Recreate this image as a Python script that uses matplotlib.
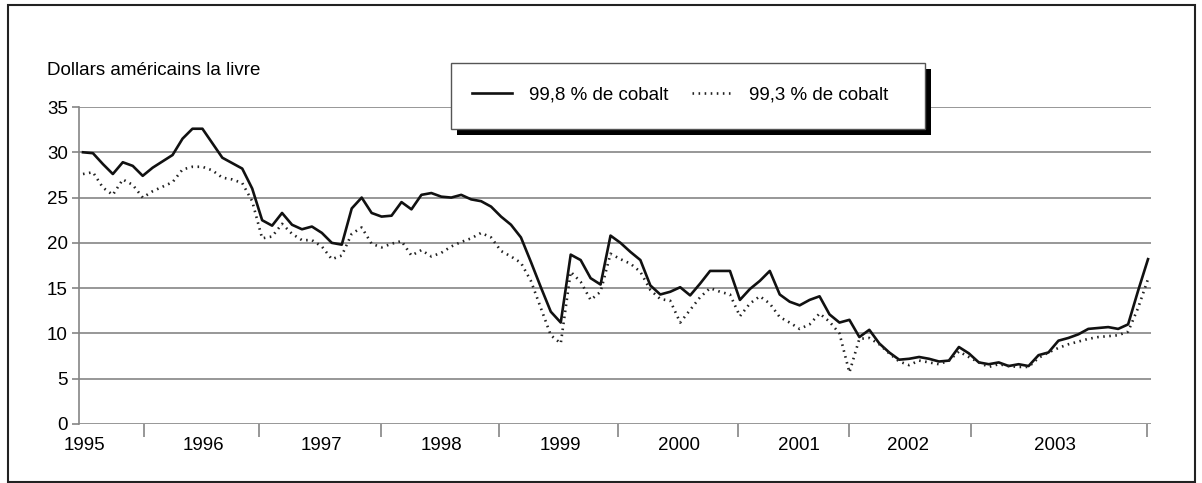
import numpy as np, matplotlib
matplotlib.use("Agg"); import matplotlib.pyplot as plt
from matplotlib.patches import Rectangle
from matplotlib.lines import Line2D

plt.rcParams['font.family'] = ['Liberation Sans', 'DejaVu Sans']
FS = 13.5

# monthly prices, US$ per pound
cobalt_998 = [30.0, 29.9, 28.7, 27.6, 28.9, 28.5, 27.4, 28.3, 29.0, 29.7, 31.5, 32.6,
              32.6, 31.0, 29.4, 28.8, 28.2, 26.0, 22.5, 21.9, 23.3, 22.0, 21.5, 21.8,
              21.1, 20.0, 19.8, 23.8, 25.0, 23.3, 22.9, 23.0, 24.5, 23.7, 25.3, 25.5,
              25.1, 25.0, 25.3, 24.8, 24.6, 24.0, 22.9, 22.0, 20.6, 17.9, 15.1, 12.4,
              11.2, 18.7, 18.1, 16.1, 15.4, 20.8, 20.0, 19.0, 18.1, 15.3, 14.3, 14.6,
              15.1, 14.2, 15.5, 16.9, 16.9, 16.9, 13.7, 14.9, 15.8, 16.9, 14.3, 13.5,
              13.1, 13.7, 14.1, 12.1, 11.2, 11.5, 9.6, 10.4, 8.9, 7.9, 7.1, 7.2,
              7.4, 7.2, 6.9, 7.0, 8.5, 7.8, 6.8, 6.6, 6.8, 6.4, 6.6, 6.4,
              7.6, 7.9, 9.2, 9.5, 9.9, 10.5, 10.6, 10.7, 10.5, 11.0, 14.7, 18.2]
cobalt_993 = [27.6, 27.8, 26.1, 25.3, 27.0, 26.4, 25.0, 25.7, 26.2, 26.7, 28.1, 28.4,
              28.4, 28.0, 27.2, 27.0, 26.6, 24.6, 20.5, 20.7, 22.1, 21.0, 20.3, 20.3,
              19.6, 18.2, 18.6, 21.0, 21.7, 19.9, 19.5, 19.9, 20.2, 18.6, 19.2, 18.5,
              18.9, 19.6, 20.1, 20.5, 21.1, 20.6, 19.1, 18.5, 17.8, 15.8, 12.8, 9.8,
              8.9, 16.8, 15.7, 13.7, 14.6, 18.8, 18.2, 17.7, 16.8, 14.8, 13.8, 13.6,
              11.2, 12.6, 14.0, 15.0, 14.6, 14.3, 11.9, 13.3, 14.1, 13.3, 11.8, 11.2,
              10.5, 11.0, 12.2, 11.3, 10.0, 5.7, 9.4, 9.5, 8.8, 7.8, 6.9, 6.5,
              7.0, 6.8, 6.6, 7.0, 8.0, 7.4, 6.8, 6.3, 6.6, 6.4, 6.3, 6.3,
              7.3, 7.9, 8.4, 8.8, 9.1, 9.4, 9.6, 9.7, 9.8, 10.2, 12.8, 16.0]
series_labels = ["99,8 % de cobalt", "99,3 % de cobalt"]
years = ["1995", "1996", "1997", "1998", "1999", "2000", "2001", "2002", "2003"]
year_label_pos = [0.1, 12.1, 24.0, 36.0, 48.0, 59.9, 71.9, 82.9, 97.6]
year_sep_pos = [6.1, 17.7, 29.9, 41.8, 53.8, 65.8, 77.0, 89.2, 106.9]

DOTS = (0, (0.6, 1.7))

W, H = 1202, 483
fig = plt.figure(figsize=(W / 100, H / 100), dpi=100)
ax = fig.add_axes([79 / W, 1 - 424 / H, (1151 - 79) / W, (424 - 107) / H])

x = np.arange(len(cobalt_998))
ax.plot(x, cobalt_998, color="#111111", lw=1.9, solid_joinstyle="round", zorder=3)
ax.plot(x, cobalt_993, color="#222222", lw=1.9, ls=DOTS, zorder=3)

ax.set_xlim(-0.4, 107.3)
ax.set_ylim(0, 35)
ax.set_yticks(range(0, 36, 5))
ax.yaxis.grid(True, color="#858585", lw=1.2)
ax.set_axisbelow(True)
for s in ["top", "right", "bottom"]:
    ax.spines[s].set_visible(False)
ax.spines["left"].set_color("#858585")
ax.spines["left"].set_linewidth(1.2)
ax.tick_params(axis="y", length=5, width=1.2, color="#858585", pad=3, labelsize=FS)

ax.set_xticks(year_sep_pos)
ax.set_xticklabels([])
ax.tick_params(axis="x", which="major", direction="out", length=9, width=1.2, color="#858585")
ax.set_xticks(year_label_pos, minor=True)
ax.set_xticklabels(years, minor=True)
ax.tick_params(axis="x", which="minor", length=0, pad=9, labelsize=FS)

fig.text(47 / W, 1 - 75 / H, "Dollars américains la livre", fontsize=FS, va="baseline")

# legend box with solid black drop shadow
bx0, bx1, by0, by1 = 451, 925, 63, 129
fig.add_artist(Rectangle(((bx0 + 6) / W, 1 - (by1 + 6) / H), (bx1 - bx0) / W, (by1 - by0) / H,
                         transform=fig.transFigure, facecolor="black", edgecolor="none", zorder=4))
fig.add_artist(Rectangle((bx0 / W, 1 - by1 / H), (bx1 - bx0) / W, (by1 - by0) / H,
                         transform=fig.transFigure, facecolor="white", edgecolor="#555555",
                         lw=1.0, zorder=5))
handles = [Line2D([], [], color="#111111", lw=1.9),
           Line2D([], [], color="#222222", lw=1.9, ls=DOTS)]
fig.legend(handles, series_labels, ncol=2, frameon=False, fontsize=FS,
           loc="center", bbox_to_anchor=(680 / W, 1 - 95 / H),
           handlelength=2.1, handletextpad=0.9, columnspacing=1.3).set_zorder(6)

# outer frame
fig.add_artist(Rectangle((8 / W, 1 / H), (1195 - 8) / W, (480 - 3) / H,
                         transform=fig.transFigure, facecolor="none", edgecolor="#222222", lw=1.5))

fig.savefig("out.png", dpi=100)
